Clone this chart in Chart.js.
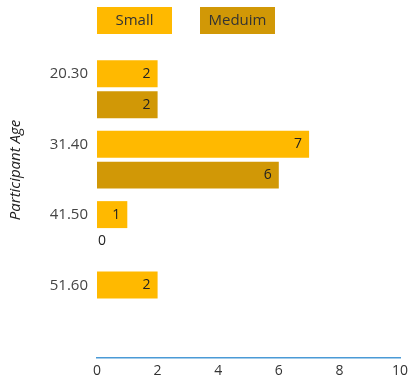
<!DOCTYPE html>
<html>
<head>
<meta charset="utf-8">
<script src="https://cdn.jsdelivr.net/npm/chart.js@4/dist/chart.umd.min.js"></script>
<style>
  html, body { margin: 0; padding: 0; background: #fff; }
  #wrap { width: 410px; height: 383px; }
</style>
</head>
<body>
<div id="wrap"><canvas id="ageChart"></canvas></div>
<script>
var ages = ["20.30", "31.40", "41.50", "51.60"];
var small = [2, 7, 1, 2];
var meduim = [2, 6, 0, null];
var xTicks = [0, 2, 4, 6, 8, 10];

var FONT = "'Open Sans', 'Noto Sans', sans-serif";

// legend drawn as filled boxes with the label inside
var boxLegend = {
  id: "boxLegend",
  afterDraw: function (chart) {
    var c = chart.ctx;
    var x = 97;
    c.save();
    c.font = "15px " + FONT;
    c.textAlign = "center";
    c.textBaseline = "middle";
    chart.data.datasets.forEach(function (ds) {
      c.fillStyle = ds.backgroundColor;
      c.fillRect(x, 7, 75, 27);
      c.fillStyle = "#333";
      c.fillText(ds.label, x + 37.5, 21);
      x += 103;
    });
    // y title
    c.translate(16, 170);
    c.rotate(-Math.PI / 2);
    c.font = "italic 15px " + FONT;
    c.fillStyle = "#222";
    c.fillText("Participant Age", 0, 0);
    c.restore();
  }
};

// value labels at the end of each bar
var barValues = {
  id: "barValues",
  afterDatasetsDraw: function (chart) {
    var c = chart.ctx;
    c.save();
    c.font = "14px " + FONT;
    c.fillStyle = "#222";
    c.textAlign = "right";
    c.textBaseline = "middle";
    chart.data.datasets.forEach(function (ds, i) {
      chart.getDatasetMeta(i).data.forEach(function (bar, j) {
        var v = ds.data[j];
        if (v === null || v === undefined) return;
        var tx = Math.max(bar.x - 7, bar.base + 9);
        var ty = v === 0 ? bar.y - 5 : bar.y;
        c.fillText(v, tx, ty);
      });
    });
    c.restore();
  }
};

new Chart(document.getElementById("ageChart"), {
  type: "bar",
  data: {
    labels: ages,
    datasets: [
      { label: "Small", data: small, backgroundColor: "#FFB900" },
      { label: "Meduim", data: meduim, backgroundColor: "#D19806" }
    ]
  },
  options: {
    indexAxis: "y",
    responsive: true,
    maintainAspectRatio: false,
    animation: false,
    layout: { padding: { top: 54, right: 10, left: 0, bottom: 0 } },
    categoryPercentage: 0.879,
    barPercentage: 0.871,
    plugins: {
      legend: { display: false },
      tooltip: { enabled: false }
    },
    scales: {
      x: {
        min: 0,
        max: 10,
        afterBuildTicks: function (s) {
          s.ticks = xTicks.map(function (v) { return { value: v }; });
        },
        afterFit: function (s) {
          s.height = 25;
          s.paddingRight = 0;
          s.paddingLeft = 0;
        },
        grid: { display: false, drawTicks: false },
        border: { display: true, color: "#4A9AD6", width: 1.5 },
        ticks: { color: "#333", padding: 5, font: { family: FONT, size: 14 } }
      },
      y: {
        // leave empty room under the last group, as in the original
        afterBuildTicks: function (s) { s._valueRange = 4.316; },
        afterFit: function (s) { s.width = 97; },
        grid: { display: false, drawTicks: false },
        border: { display: false },
        ticks: {
          color: "#444",
          padding: 9,
          labelOffset: -15,
          font: { family: FONT, size: 15 }
        }
      }
    }
  },
  plugins: [boxLegend, barValues]
});
</script>
</body>
</html>
